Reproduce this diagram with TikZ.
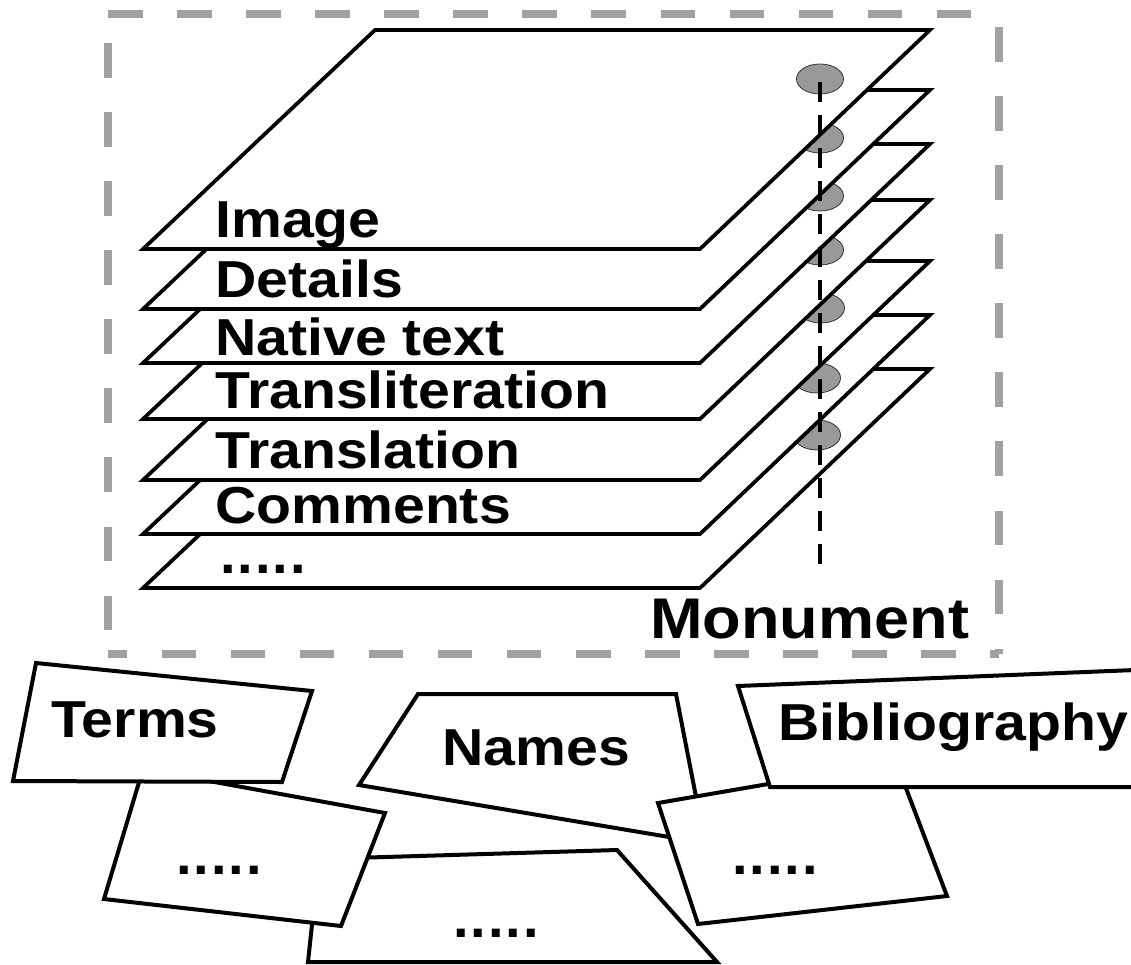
\documentclass[tikz,border=0pt]{standalone}
\usepackage{fontspec}
\setmainfont{Liberation Sans}
\newfontfamily\wideface[FakeStretch=1.1]{Liberation Sans}
\newcommand\fivedots{.\hspace{1.5pt}.\hspace{1.5pt}.\hspace{1.5pt}.\hspace{1.5pt}.}
\begin{document}
\begin{tikzpicture}[x=0.75pt,y=-0.75pt,
  sheet/.style={draw=black,fill=white,line width=2.8pt,line join=miter},
  card/.style={draw=black,fill=white,line width=3pt,line join=miter},
  knob/.style={draw=black!80,fill=black!40,line width=0.6pt},
  lbl/.style={font=\wideface\fontsize{39}{39}\selectfont\bfseries,inner sep=0pt,anchor=base west},
  dotlbl/.style={font=\fontsize{42}{42}\selectfont\bfseries,inner sep=0pt,anchor=center},
  boxedge/.style={draw=black!37,line width=5.6pt},
  spine/.style={draw=black,line width=3pt,dash pattern=on 15pt off 9.75pt},
]
\useasboundingbox (0,0) rectangle (1131,964);

% dashed frame, edge by edge
\coordinate (f1) at (108,14);
\coordinate (f2) at (999,14);
\coordinate (f3) at (999,654);
\coordinate (f4) at (108,654);
\draw[boxedge,dash pattern=on 25.9pt off 25.9pt] (f1) -- (f2);
\draw[boxedge,dash pattern=on 25.9pt off 25.9pt,dash phase=42pt] (f2) -- (f3);
\draw[boxedge,dash pattern=on 25.9pt off 25.9pt,dash phase=30pt] (f1) -- (f4);
\draw[boxedge,dash pattern=on 25.9pt off 25.9pt,dash phase=11.6pt] (f4) -- (f3);

% stacked sheets, bottom first
\foreach \t/\ey/\ex/\lab/\bl [count=\i] in {
  369/435/817/{}/0,
  315/378/817/Comments/523,
  261/308/821/Translation/468,
  200/250/820/Transliteration/408,
  144/196/820/Native text/355,
  90/138/820/Details/297,
  30/79/820/Image/237}{
  \draw[sheet] (143,\t+219) -- (375,\t) -- (930,\t) -- (700,\t+219) -- cycle;
  \draw[knob] (\ex,\ey) ellipse [x radius=23.5, y radius=15];
  \ifnum\bl=0
    \node[dotlbl] (lay\i) at (263,569) {\fivedots};
  \else
    \node[lbl] (lay\i) at (215,\bl) {\lab};
  \fi
}

\coordinate (vtop) at (820,82);
\coordinate (vbot) at (820,573);
\draw[spine] (vtop) -- (vbot);

\node[inner sep=0pt,anchor=base west,font=\wideface\fontsize{43}{43}\selectfont\bfseries] (mon) at (650,638) {Monument};

% bottom cards
\draw[card] (319,859) -- (617,850) -- (717,962) -- (308,962) -- cycle;
\node[dotlbl] (nd) at (496,933) {\fivedots};

\draw[card] (143,769) -- (385,813) -- (341,926) -- (104,899) -- cycle;
\node[dotlbl] (td) at (219,870) {\fivedots};

\draw[card] (36,663) -- (312,691) -- (282,782) -- (13,781) -- cycle;
\node[lbl] (terms) at (51,737) {Terms};

\draw[card] (418,694) -- (676,694) -- (705,843) -- (359,785) -- cycle;
\node[lbl] (names) at (442,765) {Names};

\draw[card] (658,803) -- (896,762) -- (947,896) -- (698,924) -- cycle;
\node[dotlbl] (bd) at (775,870) {\fivedots};

\draw[card] (738,686) -- (1160,669) -- (1160,787) -- (770,787) -- cycle;
\node[lbl] (bib) at (778,740) {Bibliography};
\end{tikzpicture}
\end{document}
